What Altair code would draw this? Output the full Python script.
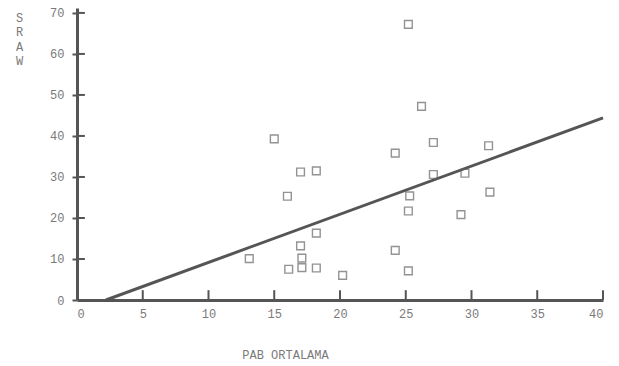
import altair as alt
import pandas as pd

# scatter data
pab = [25.2, 26.2, 27.1, 24.2, 31.3, 15.0, 17.0, 18.2, 27.1, 29.5,
       16.0, 25.3, 31.4, 25.2, 29.2, 18.2, 17.0, 13.1, 17.1, 16.1,
       17.1, 18.2, 20.2, 24.2, 25.2]
sraw = [67.2, 47.2, 38.4, 35.8, 37.6, 39.3, 31.2, 31.5, 30.6, 30.9,
        25.3, 25.4, 26.3, 21.7, 20.8, 16.3, 13.2, 10.1, 10.2, 7.5,
        7.9, 7.8, 6.0, 12.1, 7.1]

# regression line end points
fit_x = [2.2, 40.0]
fit_y = [0.0, 44.4]

x_ticks = [0, 5, 10, 15, 20, 25, 30, 35, 40]
y_ticks = [0, 10, 20, 30, 40, 50, 60, 70]

FONT = "Liberation Mono"
AX = "#555555"
TXT = "#7a7a7a"

pts = pd.DataFrame({"x": pab, "y": sraw})
fit = pd.DataFrame({"x": fit_x, "y": fit_y})
xt = pd.DataFrame({"x": x_ticks[1:], "y0": [0.0] * 8, "y1": [2.4] * 8})
yt = pd.DataFrame({"y": y_ticks[1:], "x0": [0.0] * 7, "x1": [0.6] * 7})

xs = alt.Scale(domain=[0, 40], nice=False, zero=False)
ys = alt.Scale(domain=[0, 71.2], nice=False, zero=False)

xaxis = alt.Axis(values=x_ticks, ticks=False, grid=False, domainColor=AX,
                 domainWidth=3, labelFont=FONT, labelFontSize=12,
                 labelColor=TXT, labelPadding=8, title="PAB ORTALAMA",
                 titleFont=FONT, titleFontSize=12, titleFontWeight="normal",
                 titleColor=TXT, titleX=208, titleY=61, titleAlign="center",
                 titleBaseline="bottom")
yaxis = alt.Axis(values=y_ticks, ticks=True, tickSize=5, tickWidth=2,
                 tickColor=AX, grid=False, domainColor=AX, domainWidth=3,
                 labelFont=FONT, labelFontSize=12, labelColor=TXT,
                 labelPadding=8, title=["S", "R", "A", "W"], titleAngle=0,
                 titleFont=FONT, titleFontSize=12, titleFontWeight="normal",
                 titleColor=TXT, titleX=-58, titleY=4, titleAlign="center",
                 titleBaseline="top", titleLineHeight=14.5)

base_pts = alt.Chart(pts).mark_point(shape="square", filled=False, size=60,
                                     color="#666666", strokeWidth=1.4).encode(
    x=alt.X("x:Q", scale=xs, axis=xaxis),
    y=alt.Y("y:Q", scale=ys, axis=yaxis),
)

line = alt.Chart(fit).mark_line(color=AX, strokeWidth=3).encode(
    x=alt.X("x:Q", scale=xs), y=alt.Y("y:Q", scale=ys))

xtick = alt.Chart(xt).mark_rule(color=AX, strokeWidth=2).encode(
    x=alt.X("x:Q", scale=xs), y=alt.Y("y0:Q", scale=ys), y2="y1:Q")

ytick = alt.Chart(yt).mark_rule(color=AX, strokeWidth=2).encode(
    y=alt.Y("y:Q", scale=ys), x=alt.X("x0:Q", scale=xs), x2="x1:Q")

chart = alt.layer(line, xtick, ytick, base_pts).properties(
    width=526, height=292,
    autosize=alt.AutoSizeParams(type="none"),
    padding={"left": 77, "top": 8, "right": 16, "bottom": 66},
    background="white",
).configure_view(stroke=None)

chart.save("out.html", embed_options={"renderer": "svg", "actions": False})
